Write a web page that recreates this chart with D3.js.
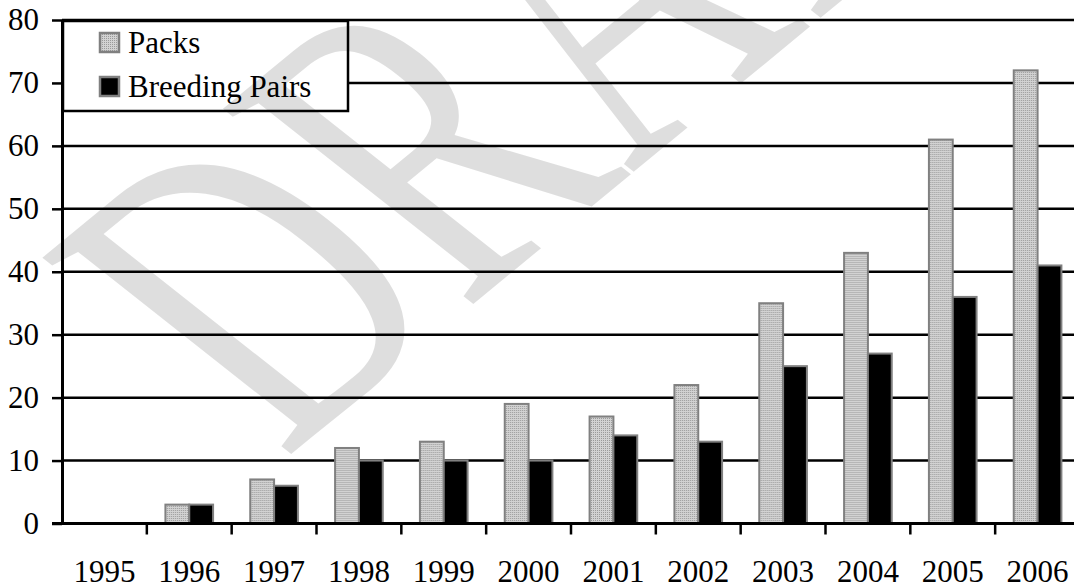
<!DOCTYPE html>
<meta charset="utf-8">
<style>
body { margin: 0; background: #fff; }
svg text { font-family: "Liberation Serif", "Times New Roman", serif; }
</style>
<body>
<div id="chart"></div>
<script src="https://d3js.org/d3.v7.min.js"></script>
<script>

// data
var years = ["1995","1996","1997","1998","1999","2000","2001","2002","2003","2004","2005","2006"];
var packs = [0, 3, 7, 12, 13, 19, 17, 22, 35, 43, 61, 72];
var pairs = [0, 3, 6, 10, 10, 10, 14, 13, 25, 27, 36, 41];
var seriesNames = ["Packs", "Breeding Pairs"];
var yTicks = [0, 10, 20, 30, 40, 50, 60, 70, 80];

var W = 1074, H = 588;
var plotLeft = 62, plotTop = 20, plotBottom = 523.5, plotRight = 1080;
var serif = "'Liberation Serif', 'Times New Roman', serif";
var fontSize = "31px";

var svg = d3.select("#chart").append("svg")
    .attr("width", W)
    .attr("height", H);

var defs = svg.append("defs");
var pat = defs.append("pattern")
    .attr("id", "dots")
    .attr("width", 2).attr("height", 2)
    .attr("patternUnits", "userSpaceOnUse");
pat.append("rect").attr("width", 2).attr("height", 2).attr("fill", "#d2d2d2");
pat.append("rect").attr("width", 1).attr("height", 1).attr("fill", "#9a9a9a");

var x = d3.scaleBand().domain(years).range([plotLeft, plotRight]);
var x1 = d3.scaleBand().domain(seriesNames).range([0, x.bandwidth()]).paddingOuter(0.78);
var y = d3.scaleLinear().domain([0, 80]).range([plotBottom, plotTop]);

var fills = {"Packs": "url(#dots)", "Breeding Pairs": "#000"};

// gridlines
svg.append("g")
  .selectAll("line")
  .data(yTicks.slice(1))
  .enter().append("line")
    .attr("x1", plotLeft).attr("x2", W)
    .attr("y1", function(d) { return y(d); })
    .attr("y2", function(d) { return y(d); })
    .attr("stroke", "#000")
    .attr("stroke-width", 2.5);

// bars
var rows = years.map(function(yr, i) {
  return {year: yr, vals: [{k: "Packs", v: packs[i]}, {k: "Breeding Pairs", v: pairs[i]}]};
});

svg.append("g")
  .selectAll("g")
  .data(rows)
  .enter().append("g")
    .attr("transform", function(d) { return "translate(" + x(d.year) + ",0)"; })
  .selectAll("rect")
  .data(function(d) { return d.vals.filter(function(e) { return e.v > 0; }); })
  .enter().append("rect")
    .attr("x", function(d) { return x1(d.k); })
    .attr("width", x1.bandwidth())
    .attr("y", function(d) { return y(d.v); })
    .attr("height", function(d) { return plotBottom - y(d.v); })
    .attr("fill", function(d) { return fills[d.k]; })
    .attr("stroke", "#808080")
    .attr("stroke-width", 2);

// y axis
var yAxis = svg.append("g")
    .attr("transform", "translate(" + plotLeft + ",0)")
    .call(d3.axisLeft(y).tickValues(yTicks).tickSize(10).tickPadding(13).tickSizeOuter(0));
yAxis.select(".domain").attr("stroke-width", 3);
yAxis.selectAll(".tick line").attr("stroke-width", 2.5);
yAxis.selectAll("text").style("font-size", fontSize).style("font-family", serif).attr("fill", "#000");

// x axis: labels at band centres, ticks on band edges
var xAxis = svg.append("g")
    .attr("transform", "translate(0," + plotBottom + ")")
    .call(d3.axisBottom(x).tickSize(0).tickPadding(36).tickSizeOuter(0));
xAxis.select(".domain").remove();
xAxis.selectAll("text").style("font-size", fontSize).style("font-family", serif).attr("fill", "#000");

svg.append("line")
    .attr("x1", plotLeft - 10).attr("x2", W)
    .attr("y1", plotBottom).attr("y2", plotBottom)
    .attr("stroke", "#000").attr("stroke-width", 3);

svg.append("g")
  .selectAll("line")
  .data(years.slice(1))
  .enter().append("line")
    .attr("x1", function(d) { return x(d); })
    .attr("x2", function(d) { return x(d); })
    .attr("y1", plotBottom).attr("y2", plotBottom + 11)
    .attr("stroke", "#000").attr("stroke-width", 2.5);

// legend
var lg = svg.append("g");
lg.append("rect")
    .attr("x", 63).attr("y", 21)
    .attr("width", 285).attr("height", 90)
    .attr("fill", "#fff").attr("stroke", "#000").attr("stroke-width", 2.5);

seriesNames.forEach(function(name, i) {
  lg.append("rect")
      .attr("x", 100).attr("y", 33 + i * 44)
      .attr("width", 19).attr("height", 19)
      .attr("fill", fills[name])
      .attr("stroke", "#808080").attr("stroke-width", 2.5);
  lg.append("text")
      .attr("x", 128).attr("y", 53 + i * 44)
      .style("font-size", fontSize)
      .style("font-family", serif)
      .attr("fill", "#000")
      .text(name);
});

// watermark, rotated and slanted like the original
svg.append("text")
    .attr("transform", "matrix(2.50,-2.06,3.80,3.00,284,460)")
    .style("font-size", "100px")
    .style("font-family", serif)
    .attr("fill", "#000")
    .attr("fill-opacity", 0.13)
    .text("DRAFT");

</script>
</body>
